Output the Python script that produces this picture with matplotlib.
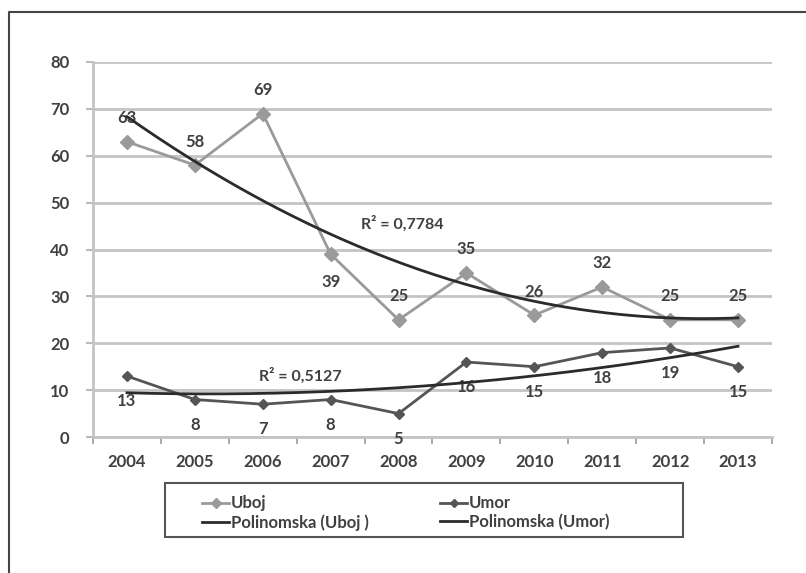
"""
Uboj / Umor 2004-2013 with polynomial trendlines
"""

import numpy as np
import matplotlib.pyplot as plt
from matplotlib.lines import Line2D
from matplotlib.patches import Rectangle


YEARS = ["2004", "2005", "2006", "2007", "2008", "2009", "2010", "2011", "2012", "2013"]
UBOJ = [63, 58, 69, 39, 25, 35, 26, 32, 25, 25]
UMOR = [13, 8, 7, 8, 5, 16, 15, 18, 19, 15]

# label placement: True = above the point
UBOJ_ABOVE = [True, True, True, False, True, True, True, True, True, True]
UMOR_ABOVE = [False] * 10

R2_UBOJ = "R² = 0,7784"
R2_UMOR = "R² = 0,5127"

FONT = ["Lato", "DejaVu Sans"]
GRID = "#c4c4c4"
TXT = "#404040"
W, H = 806, 573


def trend(values):
    """Second-order polynomial trendline (as in Excel)."""
    x = np.arange(1, len(values) + 1)
    coef = np.polyfit(x, values, 2)
    xs = np.linspace(1, len(values), 200)
    return xs - 1, np.polyval(coef, xs)


def main():
    plt.rcParams["font.family"] = FONT
    fig = plt.figure(figsize=(W / 100, H / 100), dpi=100)
    ax = fig.add_axes([0.1154, 0.2373, 0.8424, 0.6545])

    x = np.arange(len(YEARS))

    ax.plot(x, UBOJ, color="#9a9a9a", lw=2, marker="D", ms=7, zorder=3)
    ax.plot(x, UMOR, color="#555555", lw=2, marker="D", ms=5, zorder=3)

    tx, ty = trend(UBOJ)
    ax.plot(tx, ty, color="#2b2b2b", lw=2, zorder=4)
    tx2, ty2 = trend(UMOR)
    ax.plot(tx2, ty2, color="#2b2b2b", lw=2, zorder=4)

    for xi, v, up in zip(x, UBOJ, UBOJ_ABOVE):
        ax.annotate(str(v), (xi, v), xytext=(0, 17 if up else -20),
                    textcoords="offset points", ha="center", va="center",
                    fontsize=12, color=TXT, fontweight="bold")
    for xi, v, up in zip(x, UMOR, UMOR_ABOVE):
        ax.annotate(str(v), (xi, v), xytext=(0, 17 if up else -18),
                    textcoords="offset points", ha="center", va="center",
                    fontsize=12, color=TXT, fontweight="bold")

    ax.text(4.05, 45.5, R2_UBOJ, fontsize=11.5, fontweight="bold", color=TXT,
            ha="center", va="center")
    ax.text(2.55, 13.0, R2_UMOR, fontsize=11.5, fontweight="bold", color=TXT,
            ha="center", va="center")

    ax.set_xlim(-0.5, len(YEARS) - 0.5)
    ax.set_ylim(0, 80)
    ax.set_yticks(range(0, 81, 10))
    ax.set_xticks(x)
    ax.set_xticklabels(YEARS)
    ax.set_xticks(np.arange(-0.5, len(YEARS), 1), minor=True)
    ax.tick_params(axis="x", which="major", length=0, pad=12)
    ax.tick_params(axis="x", which="minor", length=5, color="#999999", width=1.2)
    ax.tick_params(axis="y", length=5, color="#bbbbbb", width=1.5, pad=12)
    for lab in ax.get_xticklabels() + ax.get_yticklabels():
        lab.set_fontweight("bold")
        lab.set_fontsize(12)
        lab.set_color(TXT)

    ax.grid(axis="y", color=GRID, lw=2)
    ax.set_axisbelow(True)
    for s in ["top", "right"]:
        ax.spines[s].set_visible(False)
    ax.spines["left"].set_color(GRID)
    ax.spines["left"].set_linewidth(2)
    ax.spines["bottom"].set_color(GRID)
    ax.spines["bottom"].set_linewidth(2)

    # legend: entries without frame, box drawn separately
    handles = [
        Line2D([], [], color="#9a9a9a", lw=2, marker="D", ms=5),
        Line2D([], [], color="#2b2b2b", lw=2),
        Line2D([], [], color="#555555", lw=2, marker="D", ms=4),
        Line2D([], [], color="#2b2b2b", lw=2),
    ]
    labels = ["Uboj", "Polinomska (Uboj )", "Umor", "Polinomska (Umor)"]
    leg = fig.legend(handles, labels, ncol=2, loc="center left",
                     bbox_to_anchor=(194 / W, 1 - 513 / H),
                     frameon=False, handlelength=1.6, handletextpad=0.1,
                     borderpad=0, labelspacing=0.15, columnspacing=4.3,
                     prop={"weight": "bold", "size": 12})
    for t in leg.get_texts():
        t.set_color(TXT)
    fig.add_artist(Rectangle((165 / W, 1 - 537 / H), (683 - 165) / W, 54 / H,
                             transform=fig.transFigure, fill=False,
                             edgecolor="#555555", lw=1.5))

    # outer chart border (only left and top visible in the crop)
    fig.add_artist(Line2D([9 / W, 9 / W, 1.0], [0.0, 1 - 12 / H, 1 - 12 / H],
                          transform=fig.transFigure, color="#444444", lw=1.5))

    fig.savefig("out.png", dpi=100)
    plt.close(fig)


if __name__ == "__main__":
    main()
